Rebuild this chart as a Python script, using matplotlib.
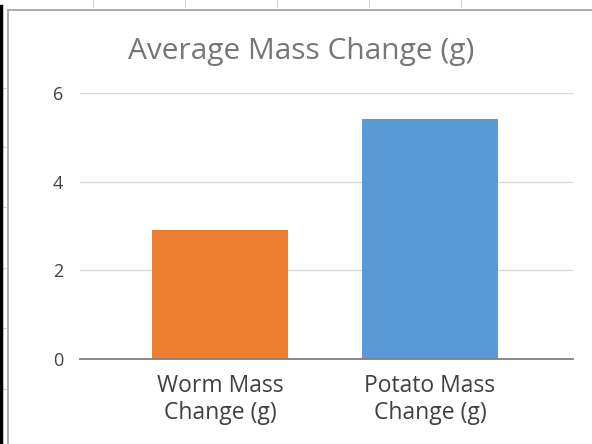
import matplotlib.pyplot as plt
from matplotlib.lines import Line2D

# chart data
categories = ["Worm Mass\nChange (g)", "Potato Mass\nChange (g)"]
values = [2.92, 5.42]
bar_colors = ["#ED7D31", "#5B9BD5"]
y_ticks = [0, 2, 4, 6]

plt.rcParams["font.family"] = ["Open Sans", "DejaVu Sans"]

W, H = 592, 444
fig = plt.figure(figsize=(W / 100, H / 100), dpi=100)
fig.patch.set_facecolor("white")

# spreadsheet bits around the chart object
def fig_line(x0, y0, x1, y1, color, lw):
    fig.add_artist(Line2D([x0 / W, x1 / W], [1 - y0 / H, 1 - y1 / H],
                          color=color, lw=lw, transform=fig.transFigure))

for x in [93, 185, 277, 369, 461]:
    fig_line(x, 0, x, 7, "#d4d4d4", 0.8)
for y in [88, 147, 207, 268, 328, 389]:
    fig_line(0, y, 6, y, "#d4d4d4", 0.8)
fig_line(1, 6, 1, H, "black", 2.5)
fig_line(7.5, 10, W, 10, "#a6a6a6", 1.3)
fig_line(7.5, 10, 7.5, H, "#a6a6a6", 1.3)

ax = fig.add_axes([80 / W, 1 - 359 / H, (573 - 80) / W, (359 - 93) / H])
ax.bar(range(len(values)), values, width=0.65, color=bar_colors, zorder=3)

ax.set_xlim(-0.667, 1.681)
ax.set_ylim(0, 6)
ax.set_yticks(y_ticks)
ax.set_xticks(range(len(categories)))
ax.set_xticklabels(categories, fontsize=16.5, color="#404040", linespacing=1.15)
ax.tick_params(axis="y", length=0, pad=12, labelsize=13, labelcolor="#404040")
ax.tick_params(axis="x", length=0, pad=11)

ax.grid(axis="y", color="#d9d9d9", lw=1, zorder=0)
for side in ["left", "right", "top"]:
    ax.spines[side].set_visible(False)
ax.spines["bottom"].set_color("#808080")
ax.spines["bottom"].set_linewidth(1.3)
ax.spines["bottom"].set_zorder(4)

fig.text(301 / W, 1 - 52 / H, "Average Mass Change (g)", fontsize=21.5,
         color="#767676", ha="center", va="center")

fig.savefig("out.png", dpi=100)
